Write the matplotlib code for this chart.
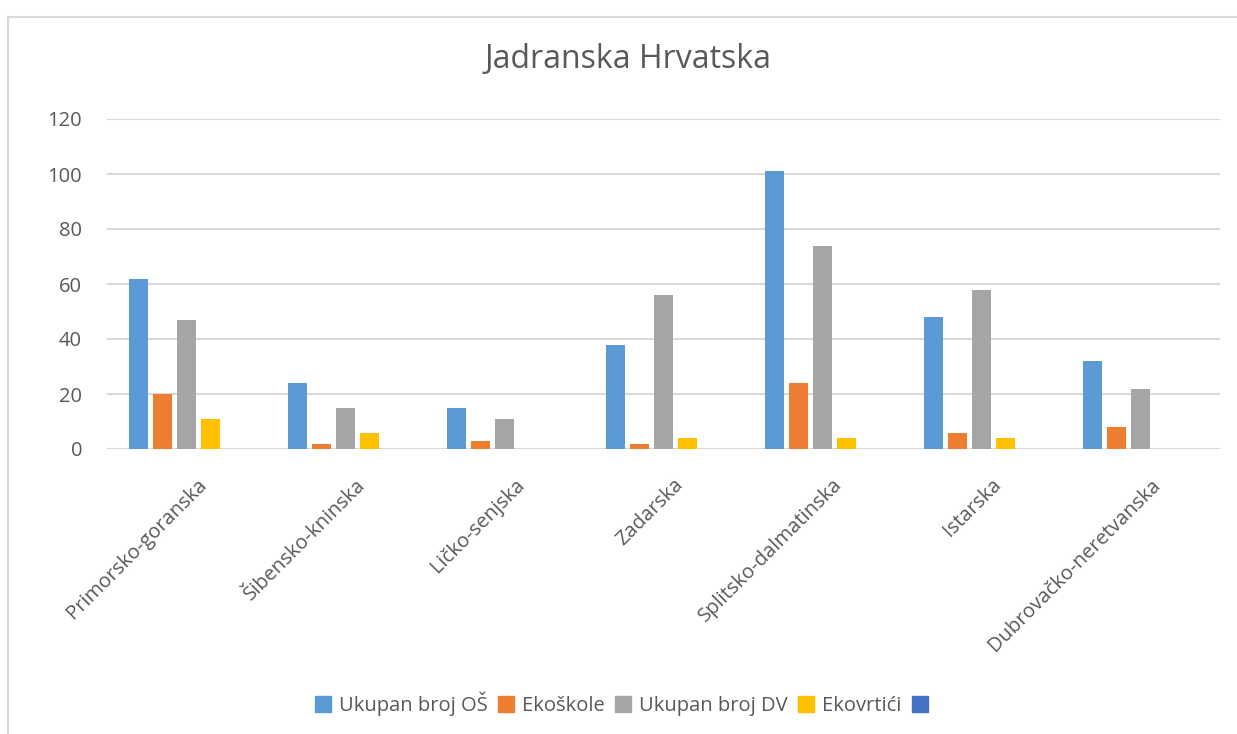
import numpy as np
import matplotlib.pyplot as plt
import matplotlib.transforms as mtransforms
from matplotlib.patches import Rectangle
from matplotlib.lines import Line2D

plt.rcParams['font.family'] = ['Open Sans', 'DejaVu Sans']

zupanije = ["Primorsko-goranska", "Šibensko-kninska", "Ličko-senjska", "Zadarska",
            "Splitsko-dalmatinska", "Istarska", "Dubrovačko-neretvanska"]
ukupno_os = [62, 24, 15, 38, 101, 48, 32]
ekoskole = [20, 2, 3, 2, 24, 6, 8]
ukupno_dv = [47, 15, 11, 56, 74, 58, 22]
ekovrtici = [11, 6, 0, 4, 4, 4, 0]
prazno = [0, 0, 0, 0, 0, 0, 0]

serije = [ukupno_os, ekoskole, ukupno_dv, ekovrtici, prazno]
nazivi = ["Ukupan broj OŠ", "Ekoškole", "Ukupan broj DV", "Ekovrtići", " "]
boje = ["#5B9BD5", "#ED7D31", "#A5A5A5", "#FFC000", "#4472C4"]

fig = plt.figure(figsize=(12.37, 7.34), dpi=100)
# okvir grafikona
fig.patches.append(Rectangle((8/1237, -0.1), 1.2, 1 - 17/734 + 0.1, transform=fig.transFigure,
                             fill=False, edgecolor="#D9D9D9", linewidth=1.5))

ax = fig.add_axes([107/1237, 1 - 449/734, (1220 - 107)/1237, (449 - 119)/734])
x = np.arange(len(zupanije))
sirina = 0.12
korak = 0.151
for k, (s, b) in enumerate(zip(serije, boje)):
    ax.bar(x + (k - 2) * korak, s, width=sirina, color=b, zorder=3)

ax.set_xlim(-0.5, len(zupanije) - 0.5)
ax.set_ylim(0, 120)
ax.set_yticks(range(0, 121, 20))
ax.grid(axis="y", color="#D9D9D9", linewidth=1.5, zorder=0)
for sp in ax.spines.values():
    sp.set_visible(False)
ax.tick_params(axis="y", length=0, labelsize=14.5, colors="#595959", pad=18)
ax.tick_params(axis="x", length=0, labelsize=14.5, colors="#595959", pad=10)
ax.set_xticks(x)
ax.set_xticklabels(zupanije, rotation=45, ha="right", rotation_mode="anchor")
pomak = mtransforms.ScaledTranslation(10/100, -12/100, fig.dpi_scale_trans)
for lbl in ax.get_xticklabels():
    lbl.set_transform(lbl.get_transform() + pomak)

fig.text(628/1237, 1 - 60/734, "Jadranska Hrvatska", ha="center", va="center",
         fontsize=23, color="#595959")

rucke = [Line2D([0], [0], marker="s", linestyle="none", markersize=11,
                markerfacecolor=b, markeredgecolor=b) for b in boje]
fig.legend(rucke, nazivi, loc="center", bbox_to_anchor=(628/1237, 1 - 704/734), ncol=5,
           frameon=False, fontsize=14.5, handlelength=0.8, handletextpad=0.4, columnspacing=0.5,
           labelcolor="#595959")

plt.savefig("out.png", dpi=100)
